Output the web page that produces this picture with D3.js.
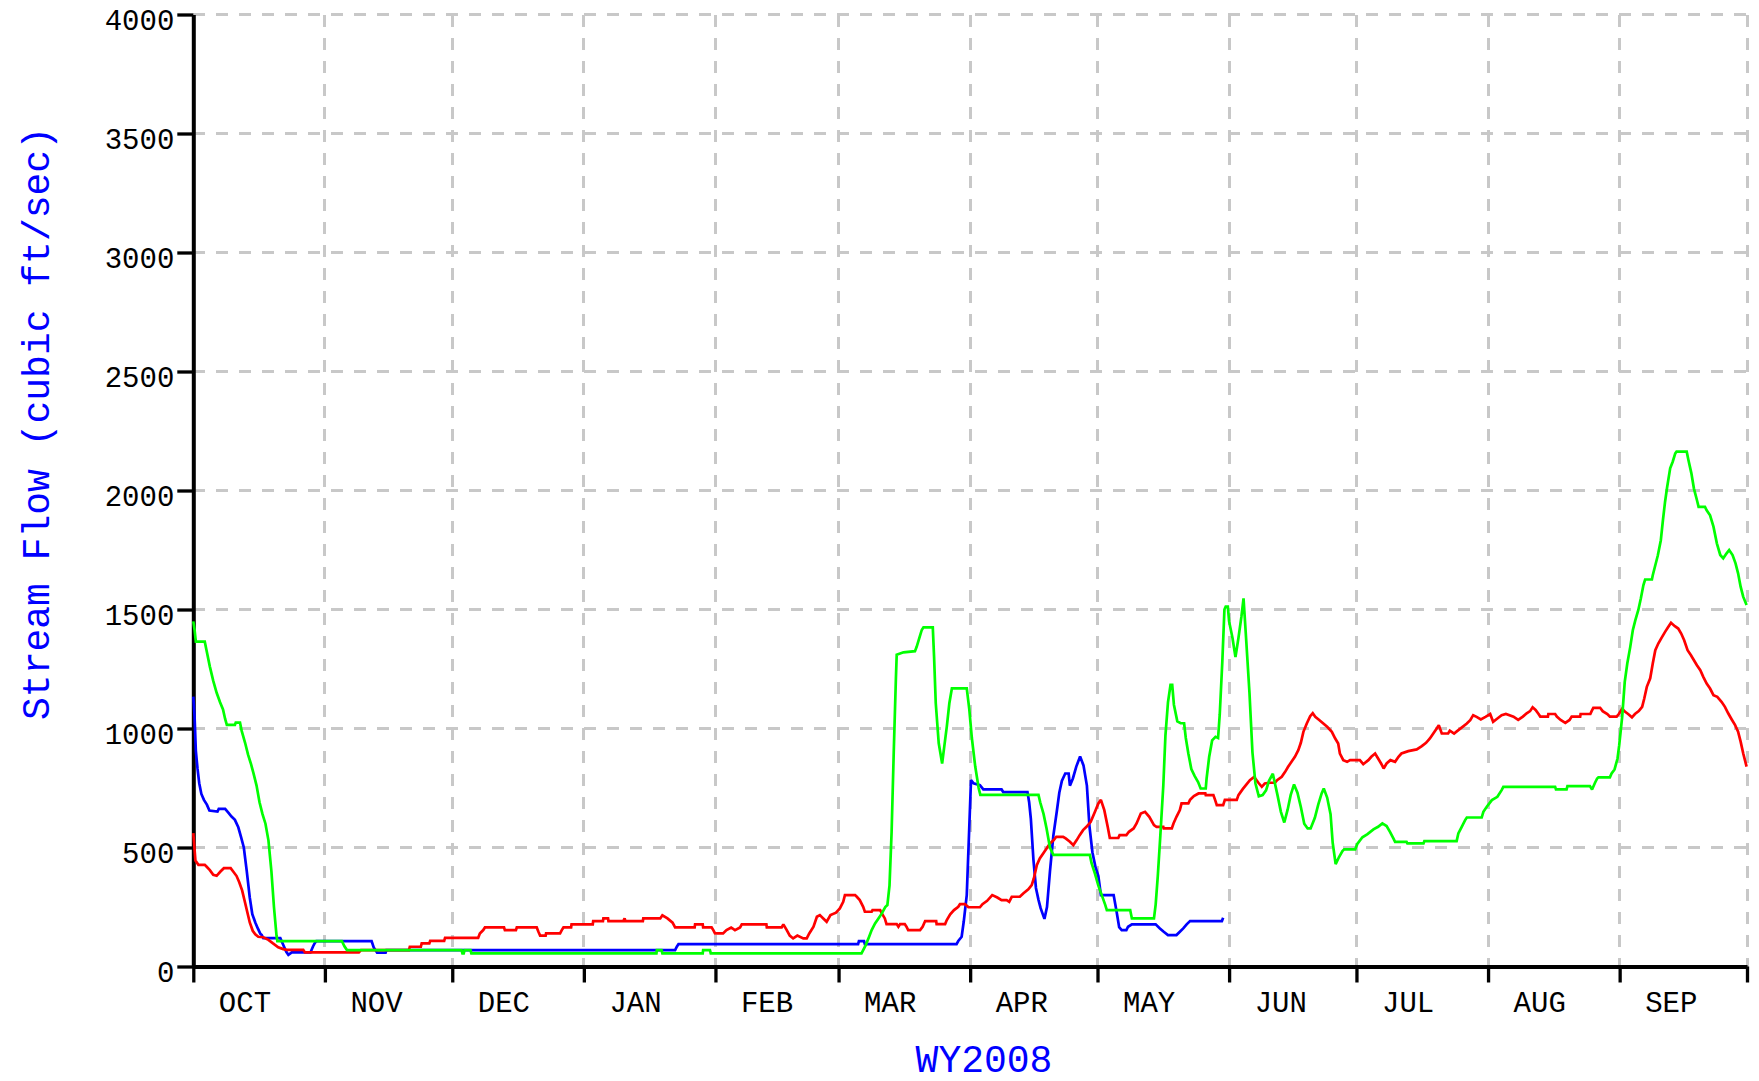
<!DOCTYPE html>
<html>
<head>
<meta charset="utf-8">
<script src="https://cdn.jsdelivr.net/npm/d3@7"></script>
<style>
html,body{margin:0;padding:0;background:#ffffff;}
svg{display:block;}
</style>
</head>
<body>
<svg id="chart" width="1759" height="1081"></svg>
<script>
// ---------------- data ----------------
const monthLabels = ["OCT","NOV","DEC","JAN","FEB","MAR","APR","MAY","JUN","JUL","AUG","SEP"];
const yTicks = [0,500,1000,1500,2000,2500,3000,3500,4000];
const yTitle = "Stream Flow (cubic ft/sec)";
const xTitle = "WY2008";
// [days after 2007-10-01, cubic ft/sec]
const redFlow = [[0,560],[0.5,445],[1.2,427],[2.7,427],[3.1,420],[3.9,405],[4.7,385],[5.5,381],[6.4,399],[7.2,413],[8.8,413],[9.4,399],[10.2,380],[10.8,355],[11.5,320],[12.1,275],[12.7,230],[13.3,185],[14.0,150],[14.6,135],[15.3,125],[16.5,123],[17.7,112],[18.7,98],[20.0,81],[21.2,73],[22,70],[25.9,70],[26.3,59],[39,59],[39.5,69],[50.8,69],[51.0,83],[53.6,83],[53.8,97],[55.6,97],[55.8,108],[59.1,108],[59.3,120],[67.1,120],[67.5,139],[68.3,153],[68.7,164],[73.2,164],[73.4,153],[76.0,153],[76.2,164],[80.9,164],[81.3,146],[81.7,130],[83.0,130],[83.1,139],[86.4,139],[86.8,153],[87.2,164],[89.0,164],[89.1,177],[94.1,177],[94.2,191],[96.5,191],[96.6,202],[97.7,202],[97.8,191],[101.3,191],[101.6,202],[101.8,191],[105.9,191],[106,202],[110,202],[110.5,215],[111.7,202],[112.9,184],[113.5,164],[118.1,164],[118.2,177],[120,177],[120.1,164],[122.1,164],[122.5,153],[122.9,139],[124.8,139],[125.6,153],[126.7,164],[127.6,153],[128.8,164],[129.2,177],[135,177],[135.1,164],[138.6,164],[139,177],[139.8,153],[140.5,130],[141.3,118],[142.3,130],[143.7,118],[144.5,118],[145.1,139],[146.1,167],[146.9,209],[147.6,216],[148.4,202],[149.2,188],[150.1,216],[151.4,226],[152.3,244],[153.1,272],[153.5,300],[155.9,300],[156.3,293],[157.0,279],[157.8,251],[158.2,230],[159.8,230],[160,237],[161.8,237],[162.2,223],[162.9,202],[163.3,178],[165.7,178],[166.1,167],[166.5,178],[167.6,178],[168.0,167],[168.4,153],[171.2,153],[171.8,167],[172.4,191],[175.0,191],[175.1,178],[177.1,178],[177.5,195],[178.3,219],[179.2,237],[180.2,251],[180.6,262],[181.8,262],[182.6,249],[185.3,249],[185.9,262],[187.0,276],[188.2,300],[189.4,290],[190.4,279],[191.6,279],[192.2,272],[192.8,293],[194.7,293],[195.5,307],[196.7,324],[197.5,342],[198.0,370],[198.7,426],[199.4,454],[200.2,475],[201.0,496],[201.8,517],[202.7,531],[203.3,545],[204.9,545],[205.5,538],[206.5,524],[207.3,510],[208.1,531],[208.8,552],[209.6,573],[210.4,587],[211.4,608],[212.4,650],[213.2,685],[213.8,700],[214.6,657],[215.4,587],[215.9,540],[217.9,540],[218.2,552],[219.8,552],[220.4,566],[221.5,580],[222.2,601],[223.2,643],[224.2,650],[225.2,629],[226.3,594],[226.9,587],[228.5,587],[228.6,580],[230.5,580],[230.9,601],[231.6,629],[232.4,657],[232.8,685],[234.4,685],[234.8,700],[235.7,716],[236.8,727],[238.4,727],[238.5,720],[240.3,720],[240.7,700],[241.1,678],[242.6,678],[243.0,700],[245.8,700],[246.2,720],[247.2,745],[248.1,765],[248.9,783],[249.9,797],[250.9,772],[251.7,755],[252.4,769],[253.5,772],[254.8,772],[255.3,783],[256.4,797],[257.2,818],[257.9,839],[258.7,860],[259.5,881],[260.3,909],[260.9,940],[261.5,986],[262.3,1021],[263.1,1052],[263.7,1064],[264.3,1049],[265.3,1035],[266.2,1021],[267.1,1007],[268.2,986],[269.0,958],[269.7,937],[270.1,895],[270.9,867],[271.8,860],[272.5,867],[274.8,867],[275.6,850],[276.8,867],[277.5,881],[278.4,895],[279.1,874],[279.9,850],[280.4,832],[281.1,853],[282.0,867],[283.1,860],[283.9,881],[284.6,895],[286.2,905],[288.2,912],[289.4,926],[290.4,940],[291.3,958],[292.1,979],[292.9,1000],[293.4,1014],[294.1,979],[295.6,979],[296.0,991],[297.0,979],[298.0,993],[299.0,1007],[300.0,1021],[300.8,1035],[301.5,1056],[302.3,1049],[303.3,1038],[304.4,1049],[305.5,1061],[306.2,1028],[307.2,1042],[308.2,1056],[309.2,1061],[311.0,1050],[312.1,1036],[313.2,1050],[314.1,1064],[314.9,1073],[315.5,1089],[316.2,1078],[316.9,1061],[317.3,1050],[319.1,1050],[319.2,1061],[320.8,1061],[321.2,1050],[322.1,1036],[323.2,1024],[324.2,1036],[324.7,1050],[326.7,1050],[326.8,1061],[329.1,1061],[329.4,1073],[329.8,1087],[331.4,1087],[332.0,1073],[333.1,1061],[333.7,1050],[335.3,1050],[335.8,1061],[336.6,1083],[337.3,1070],[338.0,1061],[338.9,1047],[339.6,1061],[340.5,1073],[341.3,1091],[341.8,1126],[342.4,1175],[343.2,1211],[343.8,1273],[344.4,1329],[345.1,1357],[345.9,1382],[346.7,1406],[347.4,1425],[348.1,1444],[349.0,1430],[349.8,1420],[350.5,1399],[351.2,1371],[352.0,1329],[352.8,1308],[353.5,1287],[354.2,1266],[355.0,1245],[355.7,1217],[356.5,1189],[357.3,1168],[358.1,1140],[359.0,1133],[360.0,1112],[360.8,1091],[361.6,1063],[362.4,1038],[363.2,1014],[363.9,987],[364.5,945],[365.1,896],[365.9,840]];
const blueFlow = [[0,1134],[0.3,1050],[0.6,906],[1.0,830],[1.4,770],[1.9,725],[2.5,700],[3.2,680],[3.8,655],[5.7,651],[6.0,662],[7.5,662],[8.3,645],[9.0,630],[9.8,616],[10.6,585],[11.3,540],[11.9,500],[12.6,400],[13.3,290],[13.9,220],[14.6,185],[15.2,160],[15.8,137],[16.1,133],[16.5,119],[20.5,119],[21.2,90],[21.9,62],[22.4,49],[23.2,59],[27.6,59],[28.2,84],[28.6,98],[29.0,107],[42.0,107],[42.5,80],[43.3,58],[45.3,58],[45.5,69],[113.5,69],[113.9,83],[114.3,94],[156.6,94],[156.8,107],[158.0,107],[158.2,94],[179.8,94],[180.2,107],[181.0,125],[181.5,190],[182.2,300],[182.7,540],[183.2,783],[183.8,770],[185.3,762],[186.1,744],[190.4,744],[190.8,733],[196.5,733],[196.9,690],[197.3,620],[197.9,450],[198.5,330],[199.1,280],[199.6,245],[200.5,200],[201.1,250],[201.8,400],[202.6,550],[203.4,650],[204.0,730],[204.6,780],[205.4,811],[206.2,811],[206.5,760],[207.2,790],[208.0,840],[208.9,882],[209.7,845],[210.5,760],[211.1,590],[211.8,480],[212.5,420],[213.2,380],[213.8,300],[216.8,300],[217.5,230],[218.1,165],[218.7,153],[219.8,153],[220.2,167],[221.1,177],[226.7,177],[227.7,160],[228.6,146],[229.6,132],[231.6,132],[232.4,146],[233.2,160],[234.0,177],[234.8,191],[242.3,191],[242.6,205]];
const greenFlow = [[0,1450],[0.3,1414],[0.6,1365],[2.7,1365],[3.1,1330],[3.9,1260],[4.7,1200],[5.5,1150],[6.3,1110],[7.0,1080],[7.5,1040],[7.9,1015],[9.8,1015],[10.0,1025],[11.0,1025],[11.4,990],[12.2,940],[12.9,890],[13.6,850],[14.2,810],[14.9,760],[15.6,690],[16.3,640],[17.0,600],[17.7,530],[18.4,400],[19.0,250],[19.6,130],[19.8,107],[35.0,107],[35.6,85],[36.2,69],[63.2,69],[63.4,55],[63.7,55],[63.9,69],[65.3,69],[65.5,55],[109.1,55],[109.2,69],[110.3,69],[110.5,55],[120.0,55],[120.1,69],[121.7,69],[121.9,55],[157.4,55],[157.8,69],[158.4,90],[159.2,125],[159.8,153],[160.6,181],[161.4,202],[162.2,223],[163.0,250],[163.5,258],[164.0,340],[164.5,566],[165.0,900],[165.5,1205],[165.7,1310],[167.3,1320],[170.0,1325],[170.4,1343],[171.0,1379],[171.6,1414],[172.0,1425],[174.2,1425],[174.5,1302],[174.9,1106],[175.6,938],[176.4,853],[176.9,924],[177.5,1008],[178.1,1106],[178.7,1169],[182.2,1169],[182.8,1080],[183.4,960],[184.2,840],[185.0,750],[185.4,721],[199.1,721],[199.5,690],[200.3,640],[201.0,580],[201.8,500],[202.6,469],[211.2,469],[211.6,434],[212.4,390],[213.2,340],[214.0,300],[214.8,260],[215.2,237],[220.7,237],[221.1,202],[226.3,202],[226.7,260],[227.2,380],[227.8,550],[228.5,760],[229.0,970],[229.6,1110],[230.2,1183],[230.6,1183],[231.0,1100],[231.8,1030],[232.6,1022],[233.4,1022],[233.8,960],[234.4,895],[235.1,830],[235.9,800],[236.7,775],[237.3,748],[238.5,748],[238.7,790],[239.3,880],[240.0,950],[240.8,965],[241.4,960],[241.8,1060],[242.4,1280],[242.9,1500],[243.2,1512],[243.7,1512],[244.0,1450],[244.8,1380],[245.5,1300],[246.2,1380],[246.9,1470],[247.4,1547],[248.0,1380],[248.8,1150],[249.5,900],[250.2,770],[251.0,715],[251.9,720],[252.7,740],[253.4,780],[254.3,810],[255.4,720],[256.2,650],[257.0,605],[257.8,660],[258.5,720],[259.3,765],[260.1,730],[260.9,670],[261.7,600],[262.5,580],[263.2,580],[264.2,625],[265.0,680],[265.8,727],[266.3,748],[267.1,710],[267.9,640],[268.4,520],[269.1,430],[269.9,460],[270.7,485],[271.1,492],[273.7,492],[274.2,515],[275.4,543],[276.6,556],[278.0,576],[279.1,587],[280.1,601],[281.1,590],[281.9,566],[282.7,538],[283.1,524],[285.8,524],[286.0,517],[289.8,517],[290.0,527],[297.6,527],[298.0,559],[298.8,587],[299.6,615],[300.0,626],[303.5,626],[303.9,650],[304.7,671],[305.9,699],[307.2,713],[308.2,741],[308.6,755],[320.8,755],[321.0,744],[323.5,744],[323.7,758],[329.0,758],[329.5,744],[330.2,772],[330.7,790],[331.0,795],[333.7,795],[334.1,811],[334.8,828],[335.5,874],[335.9,930],[336.6,1050],[337.2,1196],[337.8,1273],[338.5,1343],[339.1,1413],[339.7,1455],[340.4,1498],[341.0,1547],[341.6,1603],[342.0,1626],[343.6,1626],[343.8,1644],[344.4,1686],[345.0,1728],[345.7,1791],[346.2,1876],[346.7,1953],[347.2,2016],[347.9,2093],[348.5,2121],[349.1,2156],[349.4,2163],[351.8,2163],[352.2,2128],[352.9,2072],[353.5,2008],[354.2,1960],[354.6,1931],[356.1,1931],[356.5,1917],[357.3,1896],[358.1,1848],[358.9,1778],[359.7,1729],[360.4,1715],[361.2,1736],[361.8,1750],[362.6,1729],[363.3,1694],[363.9,1652],[364.5,1596],[365.1,1554],[365.9,1519]];

// ---------------- chart ----------------
const svg = d3.select("#chart");
const FONT = "'Liberation Mono', 'DejaVu Sans Mono', monospace";
const start = new Date(Date.UTC(2007, 9, 1));
const end = new Date(Date.UTC(2008, 9, 1));
const toDate = d => new Date(start.getTime() + d * 86400000);

const x = d3.scaleUtc().domain([start, end]).range([193.3, 1747]);
const y = d3.scaleLinear().domain([0, 4000]).range([966.5, 14.5]);

const monthStarts = d3.utcMonth.range(start, end);      // 12 months
const boundaries = monthStarts.slice(1).concat([end]);   // gridline dates

// grid
const grid = svg.append("g").attr("stroke", "#c8c8c8").attr("stroke-width", 3)
  .attr("stroke-dasharray", "12,11").attr("shape-rendering", "crispEdges");
grid.selectAll("line.h").data(yTicks.filter(v => v > 0)).join("line")
  .attr("x1", x(start)).attr("x2", x(end))
  .attr("y1", d => y(d)).attr("y2", d => y(d));
grid.selectAll("line.v").data(boundaries).join("line")
  .attr("x1", d => x(d)).attr("x2", d => x(d))
  .attr("y1", y(4000)).attr("y2", y(0));

// y axis
const yAxis = svg.append("g").attr("transform", `translate(${x(start)},0)`)
  .call(d3.axisLeft(y).tickValues(yTicks).tickSize(16).tickSizeOuter(0).tickPadding(3).tickFormat(d3.format("d")));
yAxis.select(".domain").attr("stroke", "#000").attr("stroke-width", 4);
yAxis.selectAll(".tick line").attr("stroke", "#000").attr("stroke-width", 3.3);
yAxis.selectAll(".tick text").attr("font-family", FONT).attr("font-size", 29)
  .attr("fill", "#000").attr("dy", "0.52em");

// x axis
const xAxis = svg.append("g").attr("transform", `translate(0,${y(0)})`)
  .call(d3.axisBottom(x).tickValues([start].concat(boundaries)).tickSize(16).tickSizeOuter(0).tickFormat(""));
xAxis.select(".domain").attr("stroke", "#000").attr("stroke-width", 4);
xAxis.selectAll(".tick line").attr("stroke", "#000").attr("stroke-width", 3.3);

// series (drawn over the axes, as in the reference)
const line = d3.line().x(d => x(toDate(d[0]))).y(d => y(d[1]));
const series = [
  {data: blueFlow, color: "#0000ff"},
  {data: redFlow, color: "#ff0000"},
  {data: greenFlow, color: "#00ff00"}
];
svg.append("g").selectAll("path").data(series).join("path")
  .attr("d", s => line(s.data))
  .attr("fill", "none")
  .attr("stroke", s => s.color)
  .attr("stroke-width", 2.7)
  .attr("stroke-linejoin", "miter")
  .attr("stroke-miterlimit", 2);

// month labels
svg.append("g").selectAll("text").data(monthStarts).join("text")
  .attr("x", d => x(d3.utcHour.offset(d, 12.2 * 24)))
  .attr("y", 1012)
  .attr("text-anchor", "middle")
  .attr("font-family", FONT).attr("font-size", 29).attr("fill", "#000")
  .text((d, i) => monthLabels[i]);

// titles
svg.append("text")
  .attr("x", 984).attr("y", 1071.5).attr("text-anchor", "middle")
  .attr("font-family", FONT).attr("font-size", 38).attr("fill", "#0000ff")
  .text(xTitle);
svg.append("text")
  .attr("transform", "translate(48.5,423.5) rotate(-90)")
  .attr("text-anchor", "middle")
  .attr("font-family", FONT).attr("font-size", 38).attr("fill", "#0000ff")
  .text(yTitle);
</script>
</body>
</html>
